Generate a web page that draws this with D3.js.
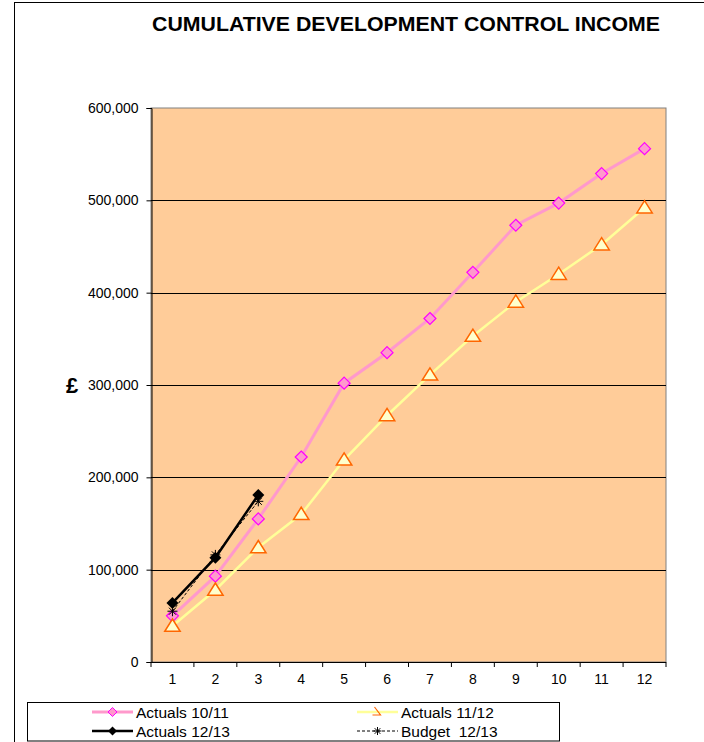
<!DOCTYPE html>
<html><head><meta charset="utf-8">
<script src="https://cdn.jsdelivr.net/npm/d3@7"></script>
<style>body{margin:0;background:#fff}svg{display:block;font-family:"Liberation Sans",Arial,sans-serif}</style>
</head><body><svg id="c" width="704" height="742"></svg>
<script>
const months = [1,2,3,4,5,6,7,8,9,10,11,12];
const actuals1011 = [50000,93000,155000,222000,302000,335000,372000,422000,473000,497000,529000,556000];
const actuals1112 = [39000,78000,124000,160000,219000,267000,311000,353000,390000,420000,452000,492000];
const actuals1213 = [64000,113000,181000];
const budget1213 = [55000,116000,174000];
const yTicks = [0,100000,200000,300000,400000,500000,600000];
const title = "CUMULATIVE DEVELOPMENT CONTROL INCOME";

const svg = d3.select("#c");
const L=151,R=666,T=108,B=662;
const x = d3.scaleBand().domain(months).range([L,R]);
const y = d3.scaleLinear().domain([0,600000]).range([B,T]);
const cx = d => x(d)+x.bandwidth()/2;

// outer border
svg.append("rect").attr("x",14.5).attr("y",2.5).attr("width",720).attr("height",760)
  .attr("fill","none").attr("stroke","#000").attr("stroke-width",1);

svg.append("text").attr("x",406).attr("y",31).attr("text-anchor","middle")
  .attr("font-size",20.5).attr("font-weight","bold")
  .attr("textLength",508).attr("lengthAdjust","spacingAndGlyphs").text(title);

// plot area
svg.append("rect").attr("x",L).attr("y",T).attr("width",R-L).attr("height",B-T)
  .attr("fill","#FFCC99").attr("stroke","#808080").attr("stroke-width",1);

// gridlines
svg.append("g").selectAll("line").data(yTicks.filter(v=>v>0&&v<600000)).join("line")
  .attr("x1",L).attr("x2",R).attr("y1",d=>Math.round(y(d))+0.5).attr("y2",d=>Math.round(y(d))+0.5)
  .attr("stroke","#000").attr("stroke-width",1);

// y axis
const ya = svg.append("g").attr("transform",`translate(${L+0.5},0)`)
  .call(d3.axisLeft(y).tickValues(yTicks).tickSize(5).tickPadding(8).tickFormat(d3.format(",")));
ya.select(".domain").attr("stroke","#000");
ya.selectAll("text").attr("font-size",14).attr("font-family","Liberation Sans, Arial, sans-serif").attr("fill","#000");

// x axis
const xa = svg.append("g").attr("transform",`translate(0,${B+0.5})`)
  .call(d3.axisBottom(x).tickSize(0).tickPadding(12));
xa.select(".domain").attr("stroke","#000").attr("d",`M${L},0H${R}`);
xa.selectAll("text").attr("font-size",14).attr("font-family","Liberation Sans, Arial, sans-serif").attr("fill","#000");
svg.append("g").selectAll("line").data(d3.range(13)).join("line")
  .attr("x1",i=>L+i*x.bandwidth()).attr("x2",i=>L+i*x.bandwidth())
  .attr("y1",B).attr("y2",B+5).attr("stroke","#000");

svg.append("text").attr("x",72).attr("y",393).attr("text-anchor","middle")
  .attr("font-size",22).attr("font-weight","bold").text("£");

const line = d3.line().x((d,i)=>cx(months[i])).y(d=>y(d));
const diamond = (s,px,py,r) => s.append("path").attr("d",`M${px},${py-r}L${px+r},${py}L${px},${py+r}L${px-r},${py}Z`);
const triangle = (s,px,py,r) => s.append("path").attr("d",`M${px},${py-r}L${px+r*1.1},${py+r*0.75}L${px-r*1.1},${py+r*0.75}Z`);
const star = (s,px,py,r) => s.append("path").attr("d",`M${px-r},${py}H${px+r}M${px-r*0.7},${py-r*0.7}L${px+r*0.7},${py+r*0.7}M${px-r*0.7},${py+r*0.7}L${px+r*0.7},${py-r*0.7}M${px},${py-r}V${py+r}`);

// series
const gP = svg.append("g");
gP.append("path").attr("d",line(actuals1011)).attr("fill","none").attr("stroke","#FF99CC").attr("stroke-width",3);
const gY = svg.append("g");
gY.append("path").attr("d",line(actuals1112)).attr("fill","none").attr("stroke","#FFFF99").attr("stroke-width",2.5);
actuals1011.forEach((v,i)=>diamond(gP,cx(months[i]),y(v),6).attr("fill","#FF99CC").attr("stroke","#FF00FF").attr("stroke-width",1.2));
actuals1112.forEach((v,i)=>triangle(gY,cx(months[i]),y(v),7).attr("fill","#FFFFCC").attr("stroke","#FF6600").attr("stroke-width",1.5));

const gB = svg.append("g");
gB.append("path").attr("d",line(budget1213)).attr("fill","none").attr("stroke","#000").attr("stroke-width",1).attr("stroke-dasharray","3,2");
budget1213.forEach((v,i)=>star(gB,cx(months[i]),y(v),5).attr("stroke","#000").attr("stroke-width",1));
const gK = svg.append("g");
gK.append("path").attr("d",line(actuals1213)).attr("fill","none").attr("stroke","#000").attr("stroke-width",2.5);
actuals1213.forEach((v,i)=>diamond(gK,cx(months[i]),y(v),6).attr("fill","#000"));

// legend
const lg = svg.append("g");
lg.append("rect").attr("x",27.5).attr("y",702.5).attr("width",532).attr("height",38.5)
  .attr("fill","#fff").attr("stroke","#000").attr("stroke-width",1);
const items = [
  {name:"Actuals 10/11", x:92, y:712, kind:"pink"},
  {name:"Actuals 11/12", x:357, y:712, kind:"yellow"},
  {name:"Actuals 12/13", x:92, y:731, kind:"black"},
  {name:"Budget  12/13", x:357, y:731, kind:"budget"}
];
items.forEach(it=>{
  const g = lg.append("g");
  const l = g.append("line").attr("x1",it.x).attr("x2",it.x+41).attr("y1",it.y).attr("y2",it.y);
  const mx = it.x+20.5;
  if(it.kind==="pink"){l.attr("stroke","#FF99CC").attr("stroke-width",3);diamond(g,mx,it.y,4.5).attr("fill","#FF99CC").attr("stroke","#FF00FF");}
  if(it.kind==="yellow"){l.attr("stroke","#FFFF99").attr("stroke-width",2.5);
    g.append("path").attr("d",`M${mx-3},${it.y-5}L${mx+3},${it.y+3}L${mx-5},${it.y+3}`).attr("fill","none").attr("stroke","#FF6600").attr("stroke-width",1.2);}
  if(it.kind==="black"){l.attr("stroke","#000").attr("stroke-width",2.5);diamond(g,mx,it.y,4.5).attr("fill","#000");}
  if(it.kind==="budget"){l.attr("stroke","#000").attr("stroke-width",1).attr("stroke-dasharray","3,2");star(g,mx,it.y,4).attr("stroke","#000");}
  g.append("text").attr("x",it.x+44).attr("y",it.y+5.5).attr("font-size",15.5).attr("xml:space","preserve").style("white-space","pre").text(it.name);
});
</script></body></html>
